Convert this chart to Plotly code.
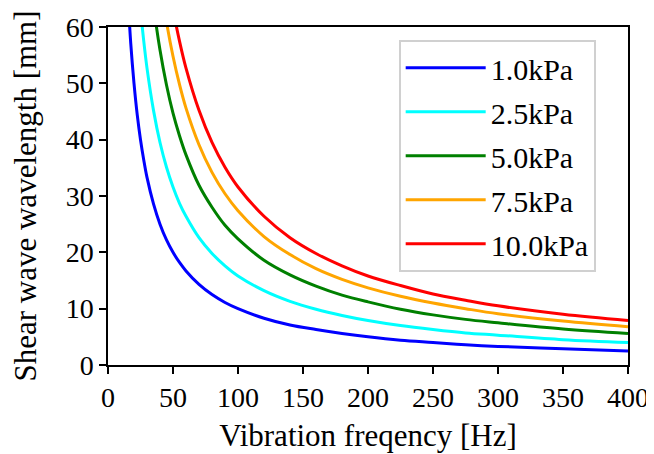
import plotly.graph_objects as go

freqs = [15, 17.5, 20, 22.5, 25, 27.5, 30, 35, 40, 45, 50, 55, 60, 70, 80, 90, 100,
         120, 140, 160, 180, 200, 225, 250, 275, 300, 350, 400]

labels = ["1.0kPa", "2.5kPa", "5.0kPa", "7.5kPa", "10.0kPa"]

wl_1_0 = [66.7, 57.1, 50.0, 44.4, 40.0, 36.4, 33.3, 28.6, 25.0, 22.2, 20.0, 18.2, 16.7, 14.3,
          12.5, 11.1, 10.0, 8.3, 7.1, 6.3, 5.6, 5.0, 4.4, 4.0, 3.6, 3.3, 2.9, 2.5]
wl_2_5 = [105.4, 90.3, 79.1, 70.3, 63.2, 57.5, 52.7, 45.2, 39.5, 35.1, 31.6, 28.7, 26.4, 22.6,
          19.8, 17.6, 15.8, 13.2, 11.3, 9.9, 8.8, 7.9, 7.0, 6.3, 5.7, 5.3, 4.5, 4.0]
wl_5_0 = [149.1, 127.8, 111.8, 99.4, 89.4, 81.3, 74.5, 63.9, 55.9, 49.7, 44.7, 40.7, 37.3, 31.9,
          28.0, 24.8, 22.4, 18.6, 16.0, 14.0, 12.4, 11.2, 9.9, 8.9, 8.1, 7.5, 6.4, 5.6]
wl_7_5 = [182.6, 156.5, 136.9, 121.7, 109.5, 99.6, 91.3, 78.2, 68.5, 60.9, 54.8, 49.8, 45.6, 39.1,
          34.2, 30.4, 27.4, 22.8, 19.6, 17.1, 15.2, 13.7, 12.2, 11.0, 10.0, 9.1, 7.8, 6.8]
wl_10_0 = [210.8, 180.7, 158.1, 140.5, 126.5, 115.0, 105.4, 90.4, 79.1, 70.3, 63.2, 57.5, 52.7, 45.2,
           39.5, 35.1, 31.6, 26.4, 22.6, 19.8, 17.6, 15.8, 14.1, 12.6, 11.5, 10.5, 9.0, 7.9]

series = [wl_1_0, wl_2_5, wl_5_0, wl_7_5, wl_10_0]
colors = ["#0000ff", "#00ffff", "#008000", "#ffa500", "#ff0000"]

FONT = "Liberation Serif, Times New Roman, serif"

fig = go.Figure()
for i, (lab, ys, c) in enumerate(zip(labels, series, colors)):
    fig.add_trace(go.Scatter(x=freqs, y=ys, mode="lines", name=lab,
                             legendgroup=f"g{i}",
                             line=dict(color=c, width=3, shape="spline", smoothing=1.0)))

axis_common = dict(showline=True, linecolor="black", linewidth=1.5, mirror=True,
                   ticks="outside", ticklen=7, tickwidth=1.5, tickcolor="black",
                   showgrid=False, zeroline=False, automargin=False,
                   tickfont=dict(family=FONT, size=28, color="black"))

fig.update_xaxes(range=[0, 400], dtick=50, tick0=0,
                 title=dict(text="Vibration freqency [Hz]", font=dict(family=FONT, size=31, color="black"),
                            standoff=12),
                 **axis_common)
fig.update_yaxes(range=[0, 60], dtick=10, tick0=0,
                 title=dict(text="Shear wave wavelength [mm]", font=dict(family=FONT, size=31, color="black"),
                            standoff=20),
                 **axis_common)

fig.update_layout(
    template="none",
    width=646, height=446,
    margin=dict(l=100, r=26, t=19, b=89, pad=0),
    plot_bgcolor="white", paper_bgcolor="white",
    font=dict(family=FONT, size=28, color="black"),
    legend=dict(x=0.559, y=0.962, xanchor="left", yanchor="top",
                bgcolor="white", bordercolor="#d0d0d0", borderwidth=2,
                font=dict(family=FONT, size=30, color="black"),
                tracegroupgap=2, itemwidth=80),
)

fig.write_html("out.html")
